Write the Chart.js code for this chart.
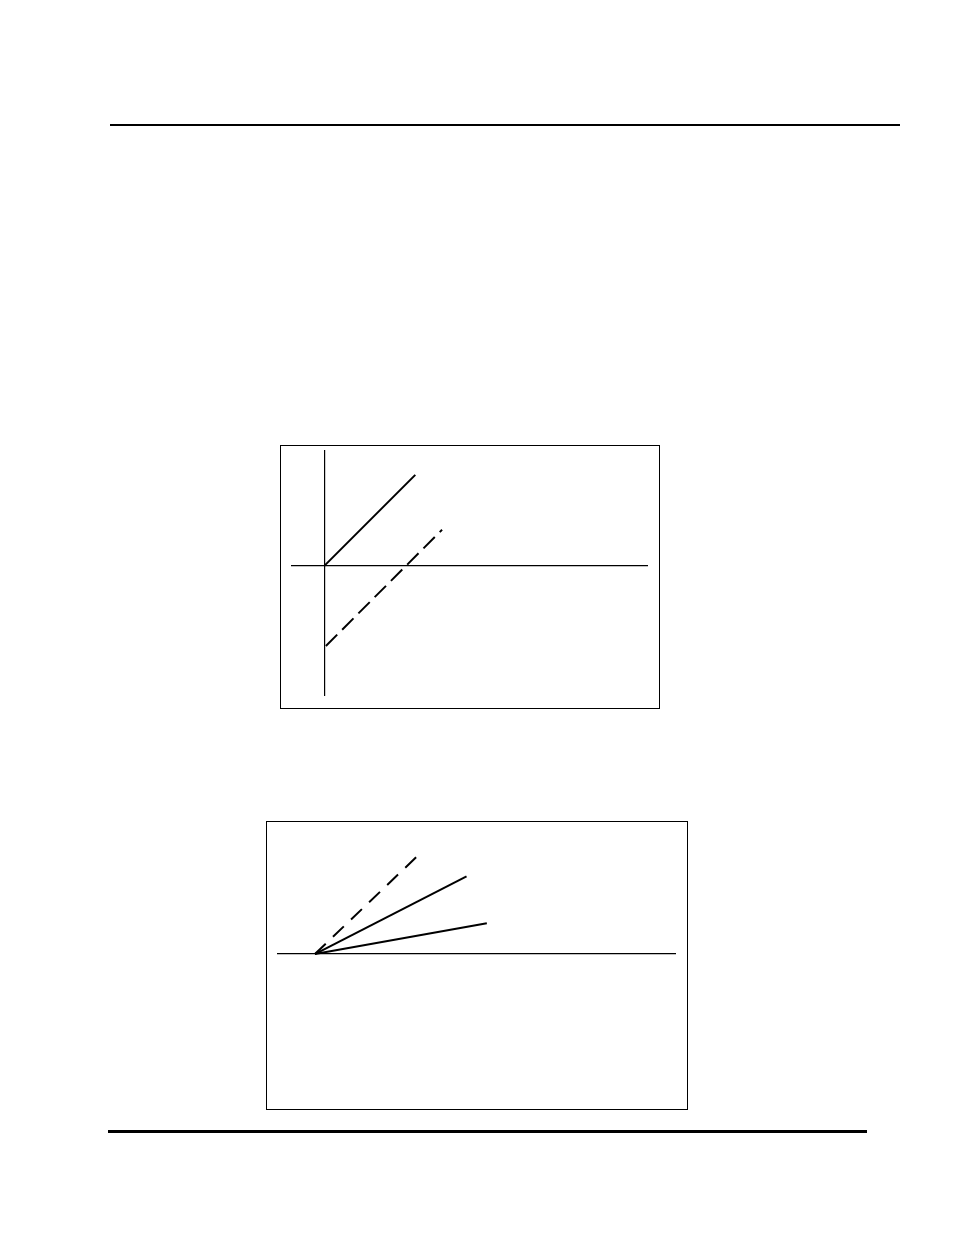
<!DOCTYPE html>
<html>
<head>
<meta charset="utf-8">
<title>Graficas</title>
<script src="https://cdn.jsdelivr.net/npm/chart.js@4"></script>
<style>
    body { margin: 0; background: #fff; }
    .page { position: relative; width: 954px; height: 1235px; }
    .rule { position: absolute; background: #000; }
    .box { position: absolute; border: 1.3px solid #000; box-sizing: border-box; }
    .box canvas { position: absolute; left: 0; top: 0; }
</style>
</head>
<body>
<div class="page">
    <div class="rule" style="left:110px; top:124px; width:790px; height:1.5px;"></div>

    <div class="box" style="left:280px; top:445px; width:380px; height:264px;">
        <canvas id="chartOne" width="378" height="262"></canvas>
    </div>

    <div class="box" style="left:266px; top:821px; width:422px; height:289px;">
        <canvas id="chartTwo" width="420" height="287"></canvas>
    </div>

    <div class="rule" style="left:108px; top:1130px; width:759px; height:3px;"></div>
</div>

<script>
// Grafica 1: dos rectas paralelas (la punteada desplazada hacia abajo)
let solidOneX = [0, 2.82];
let solidOneY = [0, 2.82];
let dashOneX = [0.05, 3.65];
let dashOneY = [-2.48, 1.12];

// Grafica 2: tres rectas que salen del mismo punto
let dashTwoX = [0, 2.79];
let dashTwoY = [0, 2.66];
let upperTwoX = [0, 4.11];
let upperTwoY = [0, 2.10];
let lowerTwoX = [0, 4.66];
let lowerTwoY = [0, 0.83];

// junta los arreglos x / y en puntos para chart.js
function toPoints(xs, ys) {
    const pts = [];
    for (let i = 0; i < xs.length; i++) {
        pts.push({ x: xs[i], y: ys[i] });
    }
    return pts;
}

function lineSet(xs, ys, dash) {
    return {
        data: toPoints(xs, ys),
        showLine: true,
        borderColor: '#000',
        borderWidth: 2,
        borderDash: dash,
        pointRadius: 0,
        fill: false
    };
}

// eje que cruza por el origen, sin ticks ni rejilla
function centerAxis(pos, min, max, showBorder) {
    return {
        type: 'linear',
        position: pos,
        min: min,
        max: max,
        grid: { display: false, drawTicks: false },
        ticks: { display: false },
        border: { display: showBorder, color: '#000', width: 1.2 }
    };
}

var ctxOne = document.getElementById('chartOne').getContext('2d');
var chartOne = new Chart(ctxOne, {
    type: 'scatter',
    data: {
        datasets: [
            lineSet(solidOneX, solidOneY, []),
            lineSet(dashOneX, dashOneY, [16, 7])
        ]
    },
    options: {
        responsive: false,
        animation: false,
        layout: { padding: { left: 11, right: 12, top: 5, bottom: 13 } },
        plugins: { legend: { display: false }, tooltip: { enabled: false } },
        scales: {
            x: centerAxis({ y: 0 }, -1, 10, true),
            y: centerAxis({ x: 0 }, -4, 3.56, true)
        }
    }
});

var ctxTwo = document.getElementById('chartTwo').getContext('2d');
var chartTwo = new Chart(ctxTwo, {
    type: 'scatter',
    data: {
        datasets: [
            lineSet(dashTwoX, dashTwoY, [15, 10]),
            lineSet(upperTwoX, upperTwoY, []),
            lineSet(lowerTwoX, lowerTwoY, [])
        ]
    },
    options: {
        responsive: false,
        animation: false,
        layout: { padding: { left: 11, right: 12, top: 10, bottom: 10 } },
        plugins: { legend: { display: false }, tooltip: { enabled: false } },
        scales: {
            x: centerAxis({ y: 0 }, -1, 9.76, true),
            y: centerAxis({ x: 0 }, -3.92, 3.30, false)
        }
    }
});
</script>
</body>
</html>
